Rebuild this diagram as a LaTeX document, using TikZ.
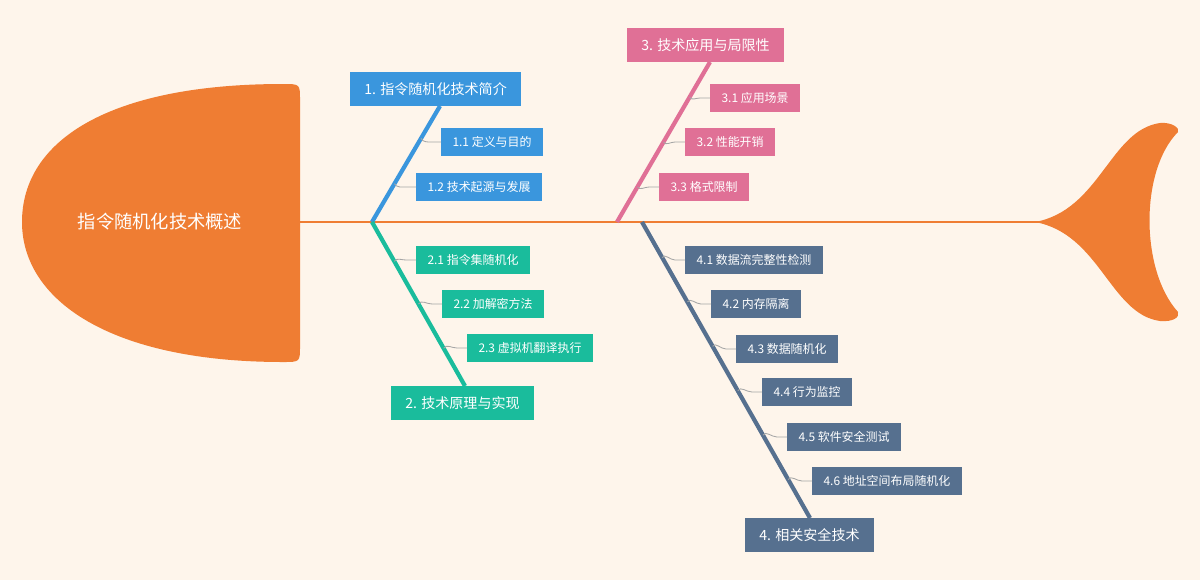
\documentclass[tikz,border=0pt]{standalone}
\usepackage{fontspec}
\setmainfont{Noto Sans CJK SC}
\usetikzlibrary{calc}
\definecolor{bgc}{HTML}{FEF5EB}
\definecolor{fishc}{HTML}{EF7D33}
\definecolor{c1}{HTML}{3A96DD}
\definecolor{c2}{HTML}{1ABC9C}
\definecolor{c3}{HTML}{E07096}
\definecolor{c4}{HTML}{56708F}
\tikzset{
  main/.style={fill=#1, text=white, anchor=west, minimum height=24pt, inner xsep=10pt, font=\fontsize{10}{12}\selectfont},
  sub/.style={fill=#1, text=white, anchor=west, minimum height=20.6pt, inner xsep=8pt, font=\fontsize{8.5}{10}\selectfont},
  bone/.style={draw=#1, line width=3pt},
  twig/.style={draw=gray!70, line width=0.6pt},
}
\begin{document}
\begin{tikzpicture}[x=0.025cm, y=-0.025cm]
	\fill [bgc] (0,0) rectangle (1200,580);
	\useasboundingbox (0,0) rectangle (1200,580);
	% spine, head and tail
	\coordinate (s0) at (300,222);
	\coordinate (s1) at (1040,222);
	\draw [fishc, line width=1.5pt] (s0) -- (s1);
	\fill [fishc] (283,84) .. controls (300,84) .. (300,100) -- (300,346)
	  .. controls (300,362) .. (283,362) .. controls (110,362) and (22,300) .. (22,222)
	  .. controls (22,140) and (110,84) .. (283,84);
	\node [text=white, font=\fontsize{13}{15}\selectfont] (head) at (160,222) {指令随机化技术概述};
	\fill [fishc] (1035,222) .. controls (1100,210) and (1110,130) .. (1160,123)
	  .. controls (1172,122) and (1180,128) .. (1178,132)
	  .. controls (1140,170) and (1140,270) .. (1178,312)
	  .. controls (1180,318) and (1172,322) .. (1160,321)
	  .. controls (1110,314) and (1100,234) .. (1035,222) -- cycle;
	% branch 1
	\node [main=c1] (b1) at (350,89) {1. 指令随机化技术简介};
	\coordinate (r1) at (372,222);
	\coordinate (e1) at (440,106);
	\draw [bone=c1] (r1) -- (e1);
	\node [sub=c1] (b11) at (441,142) {1.1 定义与目的};
	\node [sub=c1] (b12) at (416,187) {1.2 技术起源与发展};
	\draw [twig] (b11.west) -- ++(-10,0) to[out=180,in=-60] ($(r1)!0.72!(e1)$);
	\draw [twig] (b12.west) -- ++(-10,0) to[out=180,in=-60] ($(r1)!0.33!(e1)$);
	% branch 2
	\node [main=c2] (b2) at (391,403) {2. 技术原理与实现};
	\coordinate (e2) at (465,386);
	\draw [bone=c2] (r1) -- (e2);
	\node [sub=c2] (b21) at (416,260) {2.1 指令集随机化};
	\node [sub=c2] (b22) at (442,304) {2.2 加解密方法};
	\node [sub=c2] (b23) at (467,348) {2.3 虚拟机翻译执行};
	\draw [twig] (b21.west) -- ++(-10,0) to[out=180,in=60] ($(r1)!0.24!(e2)$);
	\draw [twig] (b22.west) -- ++(-10,0) to[out=180,in=60] ($(r1)!0.50!(e2)$);
	\draw [twig] (b23.west) -- ++(-10,0) to[out=180,in=60] ($(r1)!0.77!(e2)$);
	% branch 3
	\node [main=c3] (b3) at (627,45) {3. 技术应用与局限性};
	\coordinate (r3) at (617,222);
	\coordinate (e3) at (710,62);
	\draw [bone=c3] (r3) -- (e3);
	\node [sub=c3] (b31) at (710,98) {3.1 应用场景};
	\node [sub=c3] (b32) at (685,142) {3.2 性能开销};
	\node [sub=c3] (b33) at (659,187) {3.3 格式限制};
	\draw [twig] (b31.west) -- ++(-10,0) to[out=180,in=-60] ($(r3)!0.78!(e3)$);
	\draw [twig] (b32.west) -- ++(-10,0) to[out=180,in=-60] ($(r3)!0.50!(e3)$);
	\draw [twig] (b33.west) -- ++(-10,0) to[out=180,in=-60] ($(r3)!0.22!(e3)$);
	% branch 4
	\node [main=c4] (b4) at (745,535) {4. 相关安全技术};
	\coordinate (r4) at (642,222);
	\coordinate (e4) at (810,518);
	\draw [bone=c4] (r4) -- (e4);
	\node [sub=c4] (b41) at (685,260) {4.1 数据流完整性检测};
	\node [sub=c4] (b42) at (711,304) {4.2 内存隔离};
	\node [sub=c4] (b43) at (736,349) {4.3 数据随机化};
	\node [sub=c4] (b44) at (762,392) {4.4 行为监控};
	\node [sub=c4] (b45) at (787,437) {4.5 软件安全测试};
	\node [sub=c4] (b46) at (812,481) {4.6 地址空间布局随机化};
	\draw [twig] (b41.west) -- ++(-10,0) to[out=180,in=60] ($(r4)!0.12!(e4)$);
	\draw [twig] (b42.west) -- ++(-10,0) to[out=180,in=60] ($(r4)!0.27!(e4)$);
	\draw [twig] (b43.west) -- ++(-10,0) to[out=180,in=60] ($(r4)!0.42!(e4)$);
	\draw [twig] (b44.west) -- ++(-10,0) to[out=180,in=60] ($(r4)!0.57!(e4)$);
	\draw [twig] (b45.west) -- ++(-10,0) to[out=180,in=60] ($(r4)!0.72!(e4)$);
	\draw [twig] (b46.west) -- ++(-10,0) to[out=180,in=60] ($(r4)!0.87!(e4)$);
\end{tikzpicture}
\end{document}
